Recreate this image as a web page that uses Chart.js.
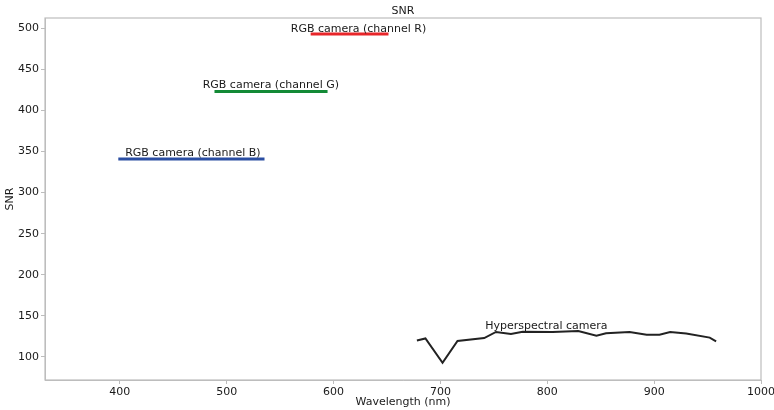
<!DOCTYPE html>
<html>
<head>
<meta charset="utf-8">
<script src="https://cdn.jsdelivr.net/npm/chart.js@4/dist/chart.umd.min.js"></script>
<style>
html,body{margin:0;padding:0;background:#fff;}
#wrap{width:774px;height:410px;position:relative;}
</style>
</head>
<body>
<div id="wrap"><canvas id="c" width="774" height="410"></canvas></div>
<script>
// ---- data ----
const chartTitle = "SNR";
const rgbNames = ["RGB camera (channel R)", "RGB camera (channel G)", "RGB camera (channel B)"];
const rgbStart = [580, 490, 400];
const rgbEnd = [650, 593, 534];
const rgbSNR = [493, 423, 341];

const hyperName = "Hyperspectral camera";
const hyperWavelength = [678, 686, 702, 716, 741, 752, 766, 777, 805, 829, 846, 855, 877, 893, 905, 915, 930, 952, 958];
const hyperSNR = [120, 122.5, 93, 119.5, 123, 130.5, 128, 130.8, 130.5, 131.6, 126, 128.8, 130.5, 127.2, 127.2, 130.5, 128.5, 123.6, 119];

const labelTexts = ["RGB camera (channel R)", "RGB camera (channel G)", "RGB camera (channel B)", "Hyperspectral camera"];
const labelWavelength = [560, 477.5, 405, 742];
const labelSNR = [495.5, 427.6, 344, 134.3];

const xTicks = [400, 500, 600, 700, 800, 900, 1000];
const yTicks = [100, 150, 200, 250, 300, 350, 400, 450, 500];

const rgbColors = ["#e8262a", "#138a36", "#2b4ea2"];

const datasets = rgbNames.map((n, i) => ({
  label: n,
  data: [{x: rgbStart[i], y: rgbSNR[i]}, {x: rgbEnd[i], y: rgbSNR[i]}],
  borderColor: rgbColors[i],
  backgroundColor: rgbColors[i],
  borderWidth: 3,
  pointRadius: 0,
  borderCapStyle: 'square',
  tension: 0
}));
datasets.push({
  label: hyperName,
  data: hyperWavelength.map((w, i) => ({x: w, y: hyperSNR[i]})),
  borderColor: "#222222",
  backgroundColor: "#222222",
  borderWidth: 2,
  pointRadius: 0,
  tension: 0
});

const textColor = "#1a1a1a";
const spineColor = "#bdbdbd";
const fontFamily = "'DejaVu Sans', sans-serif";
const fontSize = 11;

const boxPlugin = {
  id: 'box',
  afterDraw(chart) {
    const {ctx, chartArea: a} = chart;
    ctx.save();
    ctx.strokeStyle = spineColor;
    ctx.lineWidth = 1.2;
    ctx.strokeRect(a.left, a.top, a.right - a.left, a.bottom - a.top);
    ctx.font = fontSize + "px " + fontFamily;
    ctx.fillStyle = textColor;
    ctx.textAlign = 'center';
    ctx.textBaseline = 'middle';
    ctx.fillText(chartTitle, (a.left + a.right) / 2, a.top - 7);
    ctx.restore();
  }
};
const labelPlugin = {
  id: 'labels',
  afterDatasetsDraw(chart) {
    const {ctx, scales} = chart;
    ctx.save();
    ctx.font = fontSize + "px " + fontFamily;
    ctx.fillStyle = textColor;
    ctx.textAlign = 'left';
    ctx.textBaseline = 'alphabetic';
    labelTexts.forEach((t, i) => {
      ctx.fillText(t, scales.x.getPixelForValue(labelWavelength[i]), scales.y.getPixelForValue(labelSNR[i]));
    });
    ctx.restore();
  }
};

new Chart(document.getElementById('c'), {
  type: 'line',
  data: {datasets},
  plugins: [boxPlugin, labelPlugin],
  options: {
    responsive: false,
    animation: false,
    layout: {padding: {left: 0, right: 13, top: 18, bottom: 0}},
    plugins: {
      legend: {display: false},
      tooltip: {enabled: false},
      title: {display: false}
    },
    scales: {
      x: {
        type: 'linear', min: 330, max: 1000,
        afterBuildTicks(s) { s.ticks = xTicks.map(v => ({value: v})); },
        afterFit(s) { s.height = 30; s.paddingRight = 0; s.paddingLeft = 0; },
        grid: {drawOnChartArea: false, drawTicks: true, tickLength: 4, color: spineColor},
        border: {color: spineColor},
        ticks: {color: textColor, font: {family: fontFamily, size: fontSize}, padding: 2, maxRotation: 0, autoSkip: false,
                callback: v => String(v)},
        title: {display: true, text: "Wavelength (nm)", color: textColor, font: {family: fontFamily, size: fontSize}, padding: {top: 0, bottom: 1}}
      },
      y: {
        type: 'linear', min: 72, max: 512.5,
        afterBuildTicks(s) { s.ticks = yTicks.map(v => ({value: v})); },
        afterFit(s) { s.width = 45; },
        grid: {drawOnChartArea: false, drawTicks: true, tickLength: 4, color: spineColor},
        border: {color: spineColor},
        ticks: {color: textColor, font: {family: fontFamily, size: fontSize}, padding: 2, autoSkip: false,
                callback: v => String(v)},
        title: {display: true, text: "SNR", color: textColor, font: {family: fontFamily, size: fontSize}, padding: {top: 4, bottom: 0}}
      }
    }
  }
});
</script>
</body>
</html>
